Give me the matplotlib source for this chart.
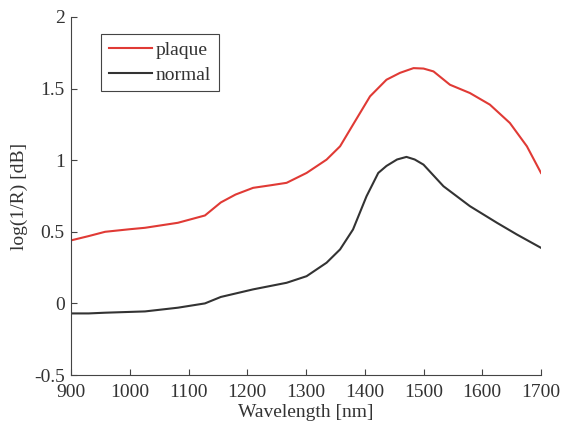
import matplotlib

matplotlib.use("Agg")
import matplotlib.pyplot as plt

# spectra
plaque_wl = [900, 930, 958, 1000, 1026, 1082, 1128, 1155, 1180, 1210, 1240, 1267, 1301,
             1335, 1358, 1380, 1409, 1437, 1460, 1483, 1500, 1517, 1545, 1579, 1613,
             1647, 1676, 1700]
plaque = [0.44, 0.47, 0.50, 0.518, 0.528, 0.563, 0.614, 0.705, 0.76, 0.807, 0.825, 0.842,
          0.911, 1.004, 1.097, 1.248, 1.446, 1.562, 1.61, 1.643, 1.64, 1.62, 1.527, 1.469,
          1.388, 1.26, 1.097, 0.911]

normal_wl = [900, 930, 958, 1026, 1082, 1128, 1155, 1210, 1267, 1301, 1335, 1358, 1380,
             1403, 1423, 1437, 1455, 1471, 1485, 1500, 1534, 1579, 1625, 1659, 1700]
normal = [-0.07, -0.07, -0.065, -0.056, -0.03, 0.0, 0.045, 0.098, 0.144, 0.19, 0.284,
          0.377, 0.516, 0.748, 0.911, 0.96, 1.005, 1.023, 1.005, 0.969, 0.818, 0.679,
          0.563, 0.481, 0.388]

x_ticks = [900, 1000, 1100, 1200, 1300, 1400, 1500, 1600, 1700]
y_ticks = [-0.5, 0, 0.5, 1, 1.5, 2]
y_labels = ["-0.5", "0", "0.5", "1", "1.5", "2"]

plt.rcParams.update({
    "font.family": ["Liberation Serif", "DejaVu Serif"],
    "font.size": 14,
    "axes.edgecolor": "#444444",
    "xtick.color": "#444444",
    "ytick.color": "#444444",
    "text.color": "#333333",
    "axes.labelcolor": "#333333",
})

fig = plt.figure(figsize=(5.61, 4.26), dpi=100)
ax = fig.add_axes([71 / 561, 51 / 426, 470 / 561, 358 / 426])

ax.plot(plaque_wl, plaque, color="#e03a35", lw=1.5, label="plaque")
ax.plot(normal_wl, normal, color="#333333", lw=1.5, label="normal")

ax.set_xlim(900, 1700)
ax.set_ylim(-0.5, 2)
ax.set_xticks(x_ticks)
ax.set_yticks(y_ticks, y_labels)
ax.tick_params(direction="in", length=4, labelcolor="#333333")
ax.tick_params(axis="x", pad=6.5)
ax.tick_params(axis="y", pad=4.5)
for side in ("top", "right"):
    ax.spines[side].set_visible(False)
ax.set_xlabel("Wavelength [nm]", labelpad=2)
ax.set_ylabel("log(1/R) [dB]", labelpad=4)

leg = ax.legend(loc="upper left", bbox_to_anchor=(0.064, 0.953), borderaxespad=0,
                fancybox=False, framealpha=1, edgecolor="#444444", handlelength=2.2,
                handletextpad=0.2, borderpad=0.4, labelspacing=0.35)
leg.get_frame().set_linewidth(0.8)

fig.savefig("out.png", dpi=100, facecolor="white")
